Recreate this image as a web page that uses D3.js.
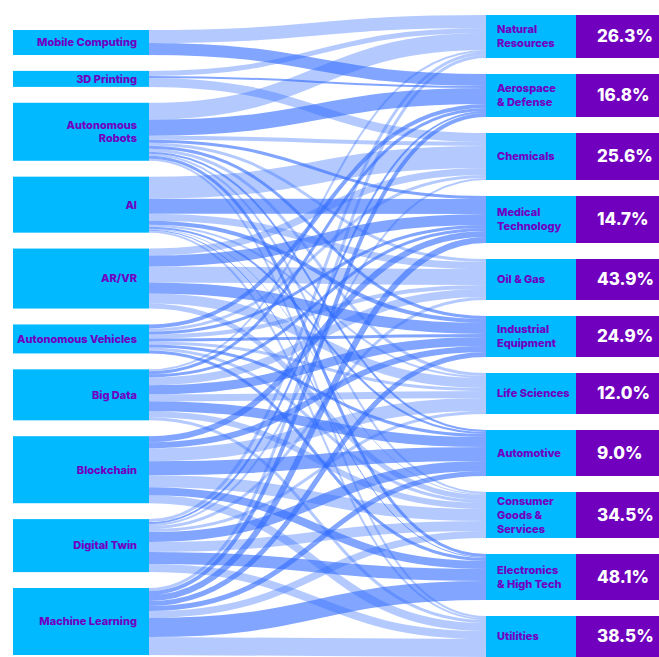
<!DOCTYPE html>
<html>
<head>
<meta charset="utf-8">
<script src="https://cdnjs.cloudflare.com/ajax/libs/d3/7.8.5/d3.min.js"></script>
<style>
  body { margin: 0; background: #fff; }
  text { font-family: Inter, "Noto Sans", sans-serif; font-weight: 800; }
</style>
</head>
<body>
<div id="chart"></div>
<script>
// Technologies (left) and industries (right)
var technologies = ["Mobile Computing", "3D Printing", "Autonomous\nRobots", "AI", "AR/VR",
  "Autonomous Vehicles", "Big Data", "Blockchain", "Digital Twin", "Machine Learning"];
var industries = ["Natural\nResources", "Aerospace\n& Defense", "Chemicals", "Medical\nTechnology",
  "Oil & Gas", "Industrial\nEquipment", "Life Sciences", "Automotive", "Consumer\nGoods &\nServices",
  "Electronics\n& High Tech", "Utilities"];
var shares = ["26.3%", "16.8%", "25.6%", "14.7%", "43.9%", "24.9%", "12.0%", "9.0%", "34.5%", "48.1%", "38.5%"];

// Flow from each technology to each industry (same order as industries)
var mobileComputing    = [13, 12, 0, 0, 0, 0, 0, 0, 0, 0, 0];
var printing3d         = [5, 2, 9, 0, 0, 0, 0, 0, 0, 0, 0];
var autonomousRobots   = [17, 16, 4, 3, 3, 3, 3, 2, 2, 3, 2];
var ai                 = [0, 0, 22, 15, 7, 4, 2, 2, 1, 1, 2];
var arvr               = [0, 0, 7, 11, 16, 11, 10, 0, 5, 0, 0];
var autonomousVehicles = [0, 4, 3, 3, 4, 3, 3, 3, 3, 3, 0];
var bigData            = [2, 3, 0, 3, 8, 9, 7, 10, 6, 0, 3];
var blockchain         = [0, 0, 0, 6, 0, 6, 13, 14, 12, 8, 8];
var digitalTwin        = [3, 2, 2, 0, 3, 0, 3, 10, 10, 12, 8];
var machineLearning    = [3, 4, 0, 6, 0, 5, 0, 5, 7, 19, 18];
var flows = [mobileComputing, printing3d, autonomousRobots, ai, arvr,
  autonomousVehicles, bigData, blockchain, digitalTwin, machineLearning];

var w = 659;
var h = 657;
var cyan = "#00b9ff";
var purple = "#7000bd";
var labelColor = "#7200c2";
var linkColor = "#2f6bff";

var leftX0 = 13, leftX1 = 149;
var rightX0 = 486, rightX1 = 576;
var leftTop = 30, leftBottom = 655;
var rightTop = 15, rightPad = 16;

//Build links and node totals
var links = [];
flows.forEach(function(row, i) {
  row.forEach(function(v, j) {
    if (v > 0) links.push({source: i, target: j, value: v});
  });
});
var total = d3.sum(links, function(d) { return d.value; });
var srcTotals = flows.map(function(row) { return d3.sum(row); });
var tgtTotals = industries.map(function(_, j) { return d3.sum(flows, function(row) { return row[j]; }); });

//Value to pixel scale, set by the right column
var ky = d3.scaleLinear()
  .domain([0, total])
  .range([0, (h - rightTop) - rightPad * (industries.length - 1)]);
var leftPad = (leftBottom - leftTop - ky(total)) / (technologies.length - 1);

function stack(totals, top, pad) {
  var y = top;
  return totals.map(function(t) {
    var n = {y0: y, y1: y + ky(t)};
    y = n.y1 + pad;
    return n;
  });
}
var leftNodes = stack(srcTotals, leftTop, leftPad);
var rightNodes = stack(tgtTotals, rightTop, rightPad);

//Stack links on each node: by target at the source, by source at the target
leftNodes.forEach(function(n, i) {
  var y = n.y0;
  links.filter(function(d) { return d.source == i; })
    .sort(function(a, b) { return a.target - b.target; })
    .forEach(function(d) { d.width = ky(d.value); d.sy = y + d.width / 2; y += d.width; });
});
rightNodes.forEach(function(n, j) {
  var y = n.y0;
  links.filter(function(d) { return d.target == j; })
    .sort(function(a, b) { return a.source - b.source; })
    .forEach(function(d) { d.ty = y + d.width / 2; y += d.width; });
});

var svg = d3.select("#chart")
  .append("svg")
  .attr("width", w)
  .attr("height", h);

var linkPath = d3.linkHorizontal()
  .source(function(d) { return [leftX1, d.sy]; })
  .target(function(d) { return [rightX0, d.ty]; });

//Links, alternating shade by industry
svg.append("g")
  .selectAll("path")
  .data(links)
  .enter()
  .append("path")
  .attr("d", linkPath)
  .attr("fill", "none")
  .attr("stroke", linkColor)
  .attr("stroke-width", function(d) { return d.width; })
  .attr("stroke-opacity", function(d) { return d.target % 2 ? 0.6 : 0.36; });

//Multi-line label helper
function addLabel(g, label, x, cy, lineH, size, fill, anchor) {
  var lines = label.split("\n");
  var t = g.append("text")
    .attr("x", x)
    .attr("text-anchor", anchor)
    .attr("font-size", size + "px")
    .attr("fill", fill);
  lines.forEach(function(s, k) {
    t.append("tspan")
      .attr("x", x)
      .attr("y", cy + (k - (lines.length - 1) / 2) * lineH)
      .attr("dy", "0.35em")
      .text(s);
  });
}

//Left nodes
var left = svg.append("g");
leftNodes.forEach(function(n, i) {
  left.append("rect")
    .attr("x", leftX0)
    .attr("y", n.y0)
    .attr("width", leftX1 - leftX0)
    .attr("height", n.y1 - n.y0)
    .attr("fill", cyan);
  addLabel(left, technologies[i], 137, (n.y0 + n.y1) / 2, 13, 11, labelColor, "end");
});

//Right nodes with share boxes
var right = svg.append("g");
rightNodes.forEach(function(n, j) {
  right.append("rect")
    .attr("x", rightX0)
    .attr("y", n.y0)
    .attr("width", rightX1 - rightX0)
    .attr("height", n.y1 - n.y0)
    .attr("fill", cyan);
  right.append("rect")
    .attr("x", rightX1)
    .attr("y", n.y0)
    .attr("width", w - rightX1)
    .attr("height", n.y1 - n.y0)
    .attr("fill", purple);
  addLabel(right, industries[j], 497, (n.y0 + n.y1) / 2, 14, 11, labelColor, "start");
  addLabel(right, shares[j], 597, (n.y0 + n.y1) / 2, 17, 17, "#fff", "start");
});
</script>
</body>
</html>
